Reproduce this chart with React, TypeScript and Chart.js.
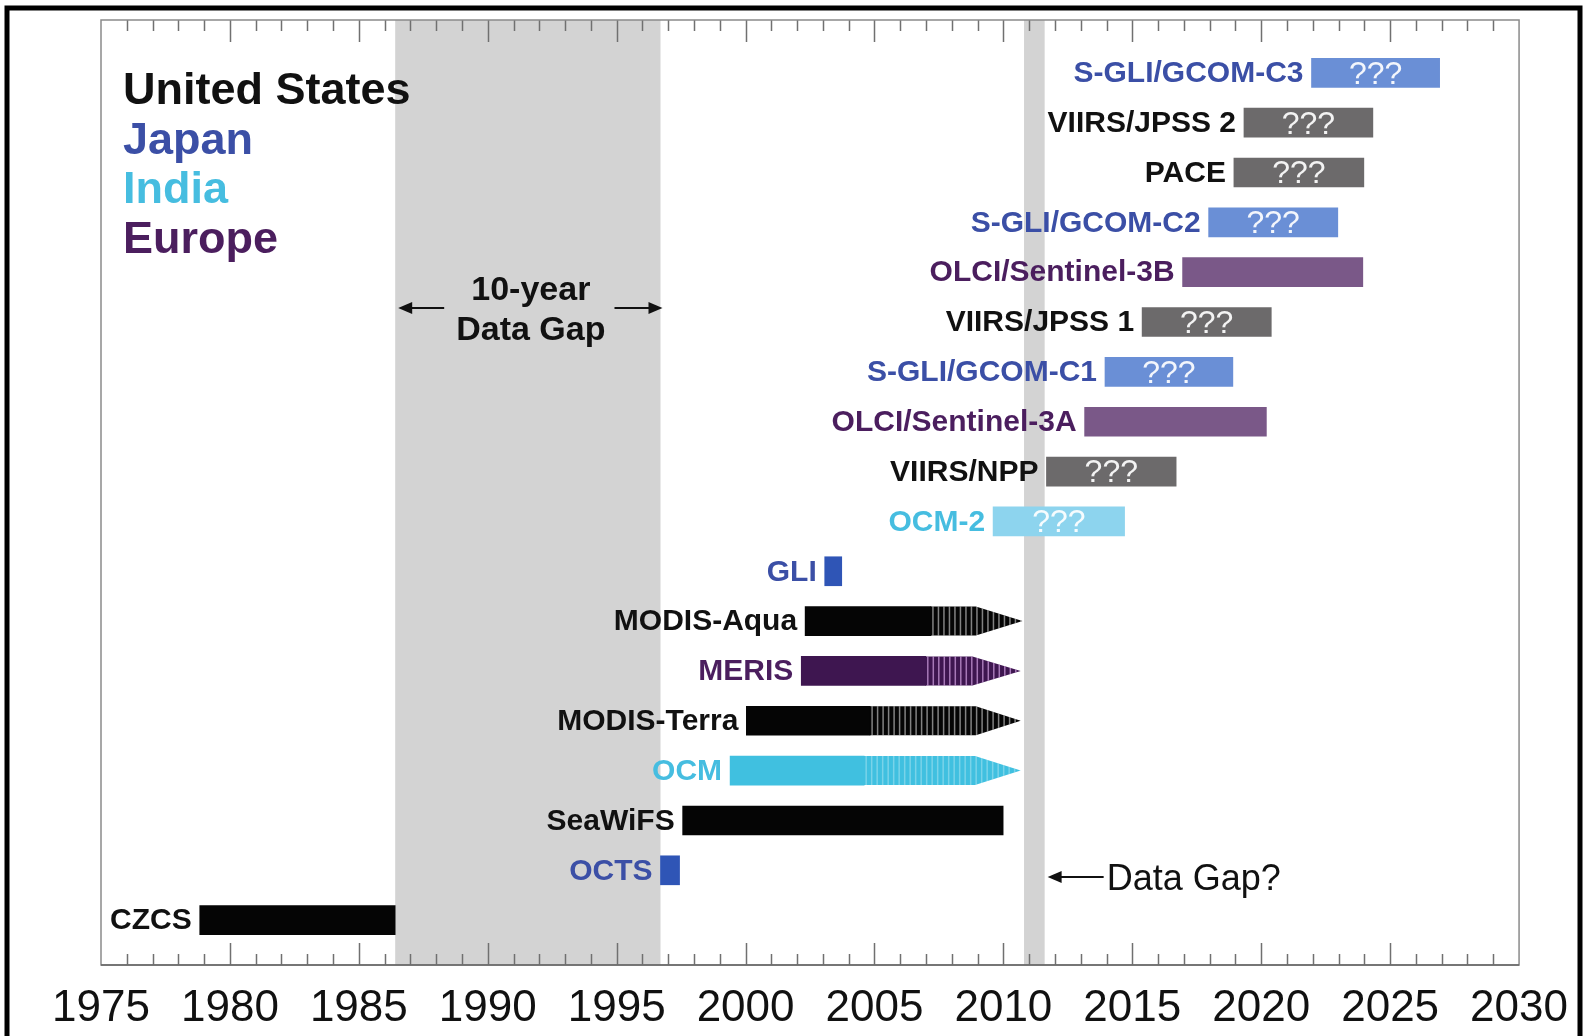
import { useEffect, useRef } from "react";
import { Chart, registerables } from "chart.js";

Chart.register(...registerables);

// ---- data ----
const missions = [
  "CZCS", "OCTS", "SeaWiFS", "OCM", "MODIS-Terra", "MERIS", "MODIS-Aqua", "GLI",
  "OCM-2", "VIIRS/NPP", "OLCI/Sentinel-3A", "S-GLI/GCOM-C1", "VIIRS/JPSS 1",
  "OLCI/Sentinel-3B", "S-GLI/GCOM-C2", "PACE", "VIIRS/JPSS 2", "S-GLI/GCOM-C3",
];
const countries = [
  "US", "JP", "US", "IN", "US", "EU", "US", "JP",
  "IN", "US", "EU", "JP", "US", "EU", "JP", "US", "US", "JP",
];
const startYears = [
  1978.83, 1996.7, 1997.56, 1999.4, 2000.03, 2002.16, 2002.31, 2003.07,
  2009.6, 2011.67, 2013.15, 2013.94, 2015.38, 2016.95, 2017.96, 2018.94, 2019.33, 2021.95,
];
const endYears = [
  1986.41, 1997.44, 2009.99, 2010.67, 2010.67, 2010.67, 2010.74, 2003.73,
  2014.7, 2016.7, 2020.2, 2018.9, 2020.39, 2023.94, 2022.97, 2023.98, 2024.33, 2026.92,
];
// extended missions: solid until fade start, striped until arrow base, arrowhead to end
const fadeStartYears: (number | null)[] = [
  null, null, null, 2004.6, 2004.83, 2006.99, 2007.19, null,
  null, null, null, null, null, null, null, null, null, null,
];
const arrowBaseYears: (number | null)[] = [
  null, null, null, 2008.9, 2008.93, 2008.8, 2008.93, null,
  null, null, null, null, null, null, null, null, null, null,
];
const futureFlags = [
  false, false, false, false, false, false, false, false,
  true, true, true, true, true, true, true, true, true, true,
];
const unknownFlags = [
  false, false, false, false, false, false, false, false,
  true, true, false, true, true, false, true, true, true, true,
];
const legendLabels = ["United States", "Japan", "India", "Europe"];
const legendCountries = ["US", "JP", "IN", "EU"];
const tenYearGap = [1986.41, 1996.7];
const dataGapBand = [2010.8, 2011.6];
const xMin = 1975;
const xMax = 2030;
const xStep = 5;

// ---- styles ----
const textColor: Record<string, string> = { US: "#111111", JP: "#3b4fa6", IN: "#46bde0", EU: "#4b1e5e" };
const barColor: Record<string, string> = { US: "#050505", JP: "#2f55b6", IN: "#40c0e0", EU: "#3e1650" };
const futureColor: Record<string, string> = { US: "#6c6a6b", JP: "#6a8fd6", IN: "#8dd4ee", EU: "#7a5888" };
const stripeColor: Record<string, string> = {
  US: "rgba(255,255,255,0.5)", JP: "rgba(255,255,255,0.4)", IN: "rgba(255,255,255,0.3)", EU: "rgba(225,175,240,0.65)",
};
const FONT = "'Liberation Sans', Arial, Helvetica, sans-serif";
const BAR_H = 29;

function arrow(ctx: CanvasRenderingContext2D, x0: number, x1: number, yy: number) {
  // line from x0 (tail) to x1 (tip)
  const dir = Math.sign(x1 - x0);
  ctx.beginPath();
  ctx.moveTo(x0, yy);
  ctx.lineTo(x1 - dir * 10, yy);
  ctx.stroke();
  ctx.beginPath();
  ctx.moveTo(x1, yy);
  ctx.lineTo(x1 - dir * 14, yy - 6);
  ctx.lineTo(x1 - dir * 14, yy + 6);
  ctx.closePath();
  ctx.fill();
}

const overlayPlugin = {
  id: "overlay",
  beforeDatasetsDraw(chart: any) {
    const { ctx, chartArea: a, scales } = chart;
    const x = scales.x;
    ctx.save();
    ctx.fillStyle = "#d3d3d3";
    const g0 = x.getPixelForValue(tenYearGap[0]);
    const g1 = x.getPixelForValue(tenYearGap[1]);
    ctx.fillRect(g0, a.top, g1 - g0, a.bottom - a.top);
    const d0 = x.getPixelForValue(dataGapBand[0]);
    const d1 = x.getPixelForValue(dataGapBand[1]);
    ctx.fillRect(d0, a.top, d1 - d0, a.bottom - a.top);

    // tick marks, top and bottom, inward
    ctx.strokeStyle = "#707070";
    ctx.lineWidth = 1.5;
    for (let yr = xMin + 1; yr < xMax; yr++) {
      const px = Math.round(x.getPixelForValue(yr)) + 0.5;
      const len = yr % xStep === 0 ? 22 : 11;
      ctx.beginPath();
      ctx.moveTo(px, a.top);
      ctx.lineTo(px, a.top + len);
      ctx.moveTo(px, a.bottom);
      ctx.lineTo(px, a.bottom - len);
      ctx.stroke();
    }
    // frame
    ctx.strokeStyle = "#8a8a8a";
    ctx.lineWidth = 1.5;
    ctx.strokeRect(a.left, a.top, a.right - a.left, a.bottom - a.top);
    ctx.strokeStyle = "#666666";
    ctx.beginPath();
    ctx.moveTo(a.left, a.bottom);
    ctx.lineTo(a.right, a.bottom);
    ctx.stroke();
    ctx.restore();
  },
  afterDatasetsDraw(chart: any) {
    const { ctx, chartArea: a, scales } = chart;
    const x = scales.x;
    const y = scales.y;
    ctx.save();

    // faded / arrow extensions
    missions.forEach((_, i) => {
      const fs = fadeStartYears[i];
      const ab = arrowBaseYears[i];
      if (fs == null || ab == null) return;
      const c = countries[i];
      const yc = y.getPixelForValue(i);
      const xs = x.getPixelForValue(fs);
      const xb = x.getPixelForValue(ab);
      const xt = x.getPixelForValue(endYears[i]);
      ctx.save();
      ctx.beginPath();
      ctx.moveTo(xs - 0.5, yc - BAR_H / 2);
      ctx.lineTo(xb, yc - BAR_H / 2);
      ctx.lineTo(xt, yc);
      ctx.lineTo(xb, yc + BAR_H / 2);
      ctx.lineTo(xs - 0.5, yc + BAR_H / 2);
      ctx.closePath();
      ctx.fillStyle = barColor[c];
      ctx.fill();
      ctx.clip();
      ctx.strokeStyle = stripeColor[c];
      ctx.lineWidth = 1.5;
      for (let sx = xs + 2; sx < xt; sx += 5.5) {
        ctx.beginPath();
        ctx.moveTo(sx, yc - BAR_H);
        ctx.lineTo(sx, yc + BAR_H);
        ctx.stroke();
      }
      ctx.restore();
    });

    // mission labels and ??? marks
    ctx.textBaseline = "middle";
    missions.forEach((name, i) => {
      const c = countries[i];
      const yc = y.getPixelForValue(i);
      const xs = x.getPixelForValue(startYears[i]);
      ctx.font = `bold 30px ${FONT}`;
      ctx.fillStyle = textColor[c];
      ctx.textAlign = "right";
      ctx.fillText(name, xs - 8, yc + 1);
      if (unknownFlags[i]) {
        const xe = x.getPixelForValue(endYears[i]);
        ctx.font = `32px ${FONT}`;
        ctx.fillStyle = "rgba(255,255,255,0.92)";
        ctx.textAlign = "center";
        ctx.fillText("???", (xs + xe) / 2, yc + 2);
      }
    });

    // legend
    ctx.textAlign = "left";
    ctx.font = `bold 45px ${FONT}`;
    legendLabels.forEach((lab, k) => {
      ctx.fillStyle = textColor[legendCountries[k]];
      ctx.fillText(lab, a.left + 22, a.top + 72 + k * 49.5);
    });

    // 10-year data gap annotation
    const g0 = x.getPixelForValue(tenYearGap[0]);
    const g1 = x.getPixelForValue(tenYearGap[1]);
    ctx.fillStyle = "#111111";
    ctx.strokeStyle = "#111111";
    ctx.lineWidth = 2;
    ctx.textAlign = "center";
    ctx.font = `bold 34px ${FONT}`;
    const gm = (g0 + g1) / 2 + 3;
    ctx.fillText("10-year", gm, a.top + 271);
    ctx.fillText("Data Gap", gm, a.top + 311);
    arrow(ctx, g0 + 49, g0 + 3, a.top + 288);
    arrow(ctx, g1 - 46, g1 + 2, a.top + 288);

    // data gap? annotation
    const d1 = x.getPixelForValue(dataGapBand[1]);
    arrow(ctx, d1 + 59, d1 + 3, a.top + 857);
    ctx.textAlign = "left";
    ctx.font = `36px ${FONT}`;
    ctx.fillText("Data Gap?", d1 + 62, a.top + 860);

    ctx.restore();

    // outer black frame
    ctx.save();
    ctx.strokeStyle = "#000000";
    ctx.lineWidth = 5;
    ctx.beginPath();
    ctx.moveTo(7, chart.height + 10);
    ctx.lineTo(7, 8);
    ctx.lineTo(1580, 8);
    ctx.lineTo(1580, chart.height + 10);
    ctx.stroke();
    ctx.restore();
  },
};

export default function App() {
  const ref = useRef<HTMLCanvasElement | null>(null);
  useEffect(() => {
    document.body.style.margin = "0";
    const canvas = ref.current;
    if (!canvas) return;
    const colors = missions.map((_, i) =>
      futureFlags[i] ? futureColor[countries[i]] : barColor[countries[i]]
    );
    const chart = new Chart(canvas, {
      type: "bar",
      data: {
        datasets: [
          {
            data: missions.map((_, i) => ({
              x: [startYears[i], fadeStartYears[i] ?? endYears[i]],
              y: i,
            })) as any,
            backgroundColor: colors,
            borderWidth: 0,
            barThickness: BAR_H,
          },
        ],
      },
      options: {
        indexAxis: "y",
        responsive: false,
        animation: false,
        devicePixelRatio: 1,
        layout: { padding: { left: 101, right: 62, top: 20, bottom: 0 } },
        plugins: { legend: { display: false }, tooltip: { enabled: false } },
        scales: {
          x: {
            type: "linear",
            position: "bottom",
            min: xMin,
            max: xMax,
            offset: false,
            grid: { display: false, drawTicks: false },
            border: { display: false },
            ticks: {
              stepSize: xStep,
              padding: 17,
              color: "#111111",
              font: { family: FONT, size: 44 },
              callback: (v: any) => String(v),
            },
            afterFit: (s: any) => {
              s.height = 71;
            },
          },
          y: {
            type: "linear",
            min: -0.9,
            max: 18.06,
            offset: false,
            display: false,
          },
        },
      },
      plugins: [overlayPlugin],
    } as any);
    return () => chart.destroy();
  }, []);
  return <canvas ref={ref} width={1585} height={1036} style={{ display: "block" }} />;
}
